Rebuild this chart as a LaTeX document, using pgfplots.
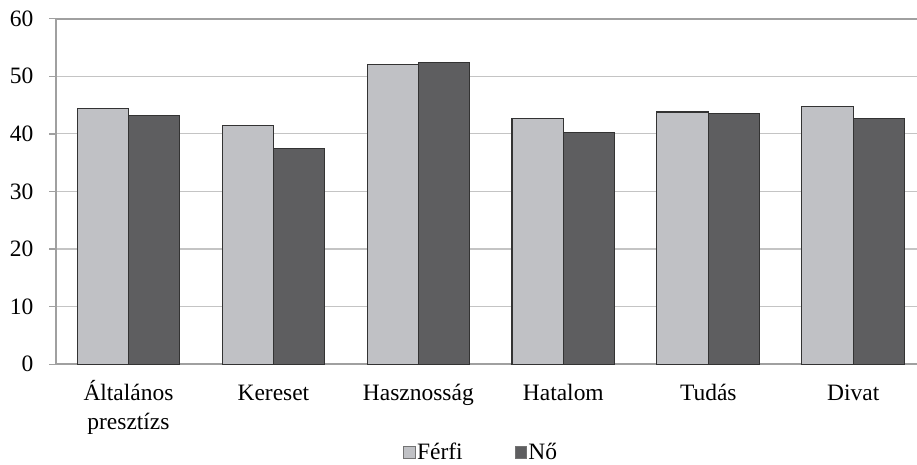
\documentclass[border=0pt]{standalone}
\usepackage{pgfplots}
\pgfplotsset{compat=1.18}
\usepackage{fontspec}
\setmainfont{Liberation Serif}
\definecolor{ferfi}{HTML}{C0C1C5}
\definecolor{no}{HTML}{5E5E60}
\definecolor{axgray}{HTML}{A0A0A0}
\definecolor{gridgray}{HTML}{C4C4C4}
\begin{document}
\begin{tikzpicture}
\begin{axis}[
  scale only axis,
  width=645.75pt, height=259.2pt,
  ybar=0pt, bar width=38.5pt,
  xmin=-0.5, xmax=5.44,
  ymin=0, ymax=60,
  ytick={0,10,...,60},
  xtick={0,...,5},
  xticklabels={{Általános\\presztízs},{\vphantom{Á}Kereset\\\mbox{}},{\vphantom{Á}Hasznosság\\\mbox{}},{\vphantom{Á}Hatalom\\\mbox{}},{\vphantom{Á}Tudás\\\mbox{}},{\vphantom{Á}Divat\\\mbox{}}},
  xticklabel style={align=center, font=\fontsize{17.6}{21.5}\selectfont, yshift=-3.5pt},
  yticklabel style={font=\fontsize{17.6}{20.5}\selectfont, xshift=-8.5pt},
  /pgf/number format/assume math mode=true,
  major x tick style={draw=none},
  extra x ticks={-0.5,0.5,1.5,2.5,3.5,4.5},
  extra x tick labels={},
  extra x tick style={major tick length=5pt, tick style={draw=axgray, line width=1pt}, tick align=outside, grid=none},
  ytick style={draw=axgray, line width=1pt},
  tick align=outside, major tick length=5pt,
  ymajorgrids, grid style={draw=gridgray, line width=0.9pt},
  axis line style={draw=axgray, line width=1.5pt},
  axis x line*=bottom, axis y line*=left,
  clip=false,
  legend columns=2,
  legend style={draw=none, fill=none, at={(0.4935,-0.255)}, anchor=center,
    font=\fontsize{17.6}{20.5}\selectfont,
    nodes={inner xsep=1pt, inner ysep=0pt},
    /tikz/every odd column/.append style={column sep=0pt},
    /tikz/every even column/.append style={column sep=38pt}},
  legend image code/.code={\draw[#1, draw=black!55, line width=0.6pt] (0pt,-4.5pt) rectangle (8.7pt,4.2pt);},
]
\addplot[fill=ferfi, draw=black!80, line width=0.8pt] coordinates {(0,44.4) (1,41.4) (2,52.1) (3,42.6) (4,43.8) (5,44.7)};
\addplot[fill=no, draw=black!80, line width=0.8pt] coordinates {(0,43.2) (1,37.4) (2,52.4) (3,40.2) (4,43.5) (5,42.6)};
\legend{Férfi,Nő}
\draw[axgray, line width=1.5pt] (rel axis cs:0,1) -- (rel axis cs:1,1);
\coordinate (bl) at (rel axis cs:0,0);
\end{axis}
\pgfresetboundingbox
\path ([shift={(-42pt,-75.5pt)}]bl) rectangle ([shift={(645.75pt,273.2pt)}]bl);
\end{tikzpicture}
\end{document}
